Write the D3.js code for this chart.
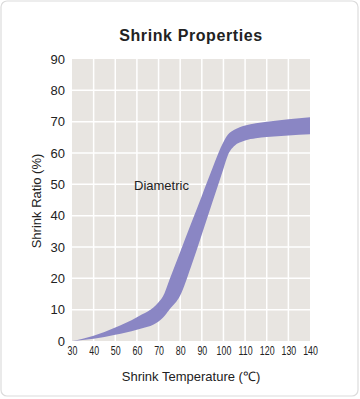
<!DOCTYPE html>
<html><head><meta charset="utf-8">
<script src="https://cdn.jsdelivr.net/npm/d3@7"></script>
<style>body{margin:0;background:#fff;}svg{display:block;}</style>
</head><body>
<script>
const title = "Shrink Properties";
const xLabel = "Shrink Temperature (℃)";
const yLabel = "Shrink Ratio (%)";
const seriesName = "Diametric";
const xTicks = [30,40,50,60,70,80,90,100,110,120,130,140];
const yTicks = [0,10,20,30,40,50,60,70,80,90];
const temps      = [30, 40,  50,  60,  70,  72,  75,  80,  85,  90,  95, 100, 102, 105, 110, 115, 120, 130, 140];
const upperRatio = [0, 1.7, 4.3, 7.6, 12.4, 14.2, 19.5, 28.4, 37.4, 46.3, 55.3, 63.5, 65.8, 67.4, 68.8, 69.5, 70, 70.8, 71.4];
const lowerRatio = [0, 0.7, 2.0, 3.6, 6.2, 7.4, 10, 14.5, 23.7, 34, 44.5, 55, 59.2, 62.2, 64, 64.7, 65.1, 65.6, 66];

const W = 360, H = 399;
const svg = d3.select("body").append("svg").attr("width", W).attr("height", H);
svg.append("rect").attr("x",1).attr("y",1).attr("width",357).attr("height",395)
  .attr("rx",6).attr("fill","#fff").attr("stroke","#dcdcdc").attr("stroke-width",1.2);

const m = {left:72, right:310, top:59, bottom:341};
const x = d3.scaleLinear().domain([30,140]).range([m.left, m.right]);
const y = d3.scaleLinear().domain([0,90]).range([m.bottom, m.top]);

svg.append("rect").attr("x",m.left).attr("y",m.top).attr("width",m.right-m.left).attr("height",m.bottom-m.top).attr("fill","#e8e5e1");
const g = svg.append("g");
g.selectAll(".vg").data(xTicks.slice(1,-1)).join("line")
  .attr("x1",d=>x(d)).attr("x2",d=>x(d)).attr("y1",m.top).attr("y2",m.bottom)
  .attr("stroke","#fff").attr("stroke-width",1.5);
g.selectAll(".hg").data(yTicks.slice(1,-1)).join("line")
  .attr("y1",d=>y(d)).attr("y2",d=>y(d)).attr("x1",m.left).attr("x2",m.right)
  .attr("stroke","#fff").attr("stroke-width",1.5);

const data = temps.map((t,i)=>({t, lo: lowerRatio[i], hi: upperRatio[i]}));
const area = d3.area().x(d=>x(d.t)).y0(d=>y(d.lo)).y1(d=>y(d.hi)).curve(d3.curveMonotoneX);
svg.append("path").datum(data).attr("d", area).attr("fill","#8a86c4");

// axes
const yAxis = d3.axisLeft(y).tickValues(yTicks).tickSize(0).tickPadding(7);
const ya = svg.append("g").attr("transform",`translate(${m.left},0)`).call(yAxis);
ya.select(".domain").remove();
ya.selectAll("text").attr("font-family","Liberation Sans, Arial, sans-serif").attr("font-size",13).attr("fill","#222");

const xAxis = d3.axisBottom(x).tickValues(xTicks).tickSize(0).tickPadding(5);
const xa = svg.append("g").attr("transform",`translate(0,${m.bottom})`).call(xAxis);
xa.select(".domain").remove();
xa.selectAll("text").attr("font-family","Liberation Sans, Arial, sans-serif").attr("font-size",13).attr("fill","#222")
  .attr("transform","scale(0.68,1)");

svg.append("text").attr("x",191).attr("y",41).attr("text-anchor","middle")
  .attr("font-family","Liberation Sans, Arial, sans-serif").attr("font-weight","bold").attr("font-size",16)
  .attr("letter-spacing",0.6).attr("fill","#222").text(title);
svg.append("text").attr("x",191).attr("y",381).attr("text-anchor","middle")
  .attr("font-family","Liberation Sans, Arial, sans-serif").attr("font-size",13).attr("fill","#222").text(xLabel);
svg.append("text").attr("transform","translate(41,201) rotate(-90)").attr("text-anchor","middle")
  .attr("font-family","Liberation Sans, Arial, sans-serif").attr("font-size",13).attr("fill","#222").text(yLabel);
svg.append("text").attr("x",134).attr("y",190)
  .attr("font-family","Liberation Sans, Arial, sans-serif").attr("font-size",13).attr("fill","#222").text(seriesName);
</script>
</body></html>
